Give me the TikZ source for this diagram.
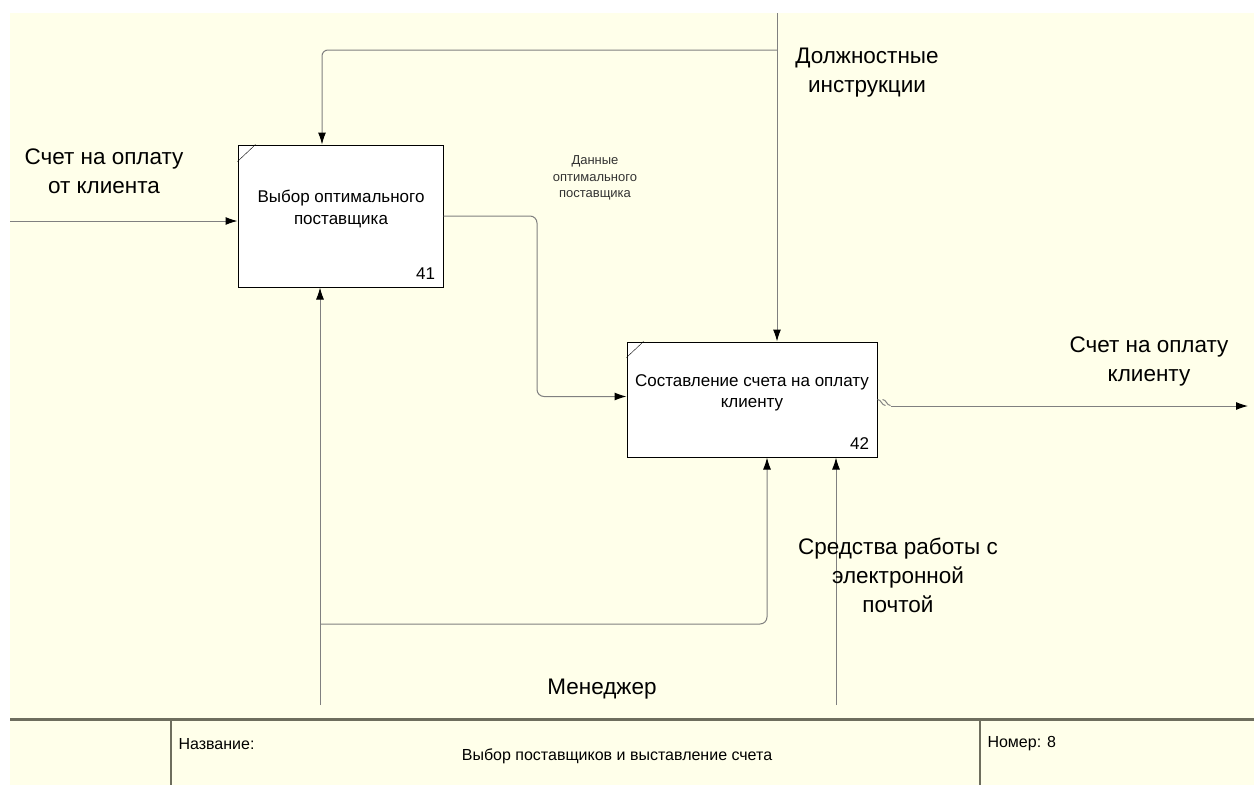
\documentclass[tikz,border=0pt]{standalone}
\usepackage{fontspec}
\setmainfont{Liberation Sans}
\usetikzlibrary{arrows.meta}

\definecolor{paper}{HTML}{FFFFEA}
\definecolor{wire}{HTML}{808080}
\definecolor{frame}{HTML}{6E6E5E}

\tikzset{
  func/.style={draw=black, line width=1pt, fill=white, inner sep=0pt},
  flow/.style={draw=wire, line width=1pt, -{Latex[length=12pt,width=8pt,color=black]}},
  wireline/.style={draw=wire, line width=1pt},
  biglbl/.style={align=center, font=\fontsize{22.5}{29}\selectfont},
  boxlbl/.style={align=center, font=\fontsize{17}{21.5}\selectfont},
  smalllbl/.style={align=center, font=\fontsize{13}{16.5}\selectfont, text=black!80},
  framelbl/.style={font=\fontsize{16}{18}\selectfont}
}

\begin{document}
\begin{tikzpicture}[x=1pt,y=-1pt]
\useasboundingbox (0,0) rectangle (1254,785);
\fill[white] (0,0) rectangle (1254,785);
\fill[paper] (10,13) rectangle (1254,785);

% functions
\node[func, minimum width=205pt, minimum height=142pt] (sel) at (340.5,216) {};
\draw ([yshift=-17pt]sel.north west) -- ([xshift=18pt]sel.north west);
\node[boxlbl] (selt) at (341,209) {Выбор оптимального\\поставщика};
\node[boxlbl, anchor=south east] (seln) at ([xshift=-5pt,yshift=4pt]sel.south east) {41};

\node[func, minimum width=250pt, minimum height=115pt] (inv) at (752,399.5) {};
\draw ([yshift=-16pt]inv.north west) -- ([xshift=17pt]inv.north west);
\node[boxlbl] (invt) at (752,393) {Составление счета на оплату\\клиенту};
\node[boxlbl, anchor=south east] (invn) at ([xshift=-5pt,yshift=4pt]inv.south east) {42};

% ends of the arrows
\coordinate (inL) at (10,221);
\coordinate (ctlT) at (777,13);
\coordinate (ctlJ) at (777,50);
\coordinate (outR) at (1248,406);
\coordinate (mgrB) at (320,705);
\coordinate (mgrJ) at (320,624);
\coordinate (toolB) at (836,705);

% input
\draw[flow] (inL) -- (inL -| sel.west);
\node[biglbl] (inlbl) at (104,171) {Счет на оплату\\от клиента};

% controls
\draw[flow] (ctlT) -- (ctlT |- inv.north);
\draw[flow, rounded corners=6pt] (ctlJ) -| ([xshift=-18.5pt]sel.north);
\node[biglbl] (ctllbl) at (867,73) {Должностные\\инструкции};

% data between the functions
\draw[flow, rounded corners=7pt] (sel.east) -| (537,300) |- ([yshift=3pt]inv.west);
\node[smalllbl] (datlbl) at (595,178) {Данные\\оптимального\\поставщика};

% output
\draw[wireline] (inv.east) to[out=0,in=180] ++(8,6);
\draw[wireline] ([xshift=5pt]inv.east) to[out=0,in=180] ++(8,6);
\draw[flow] ([xshift=13pt,yshift=-6.5pt]inv.east) -- (outR);
\node[biglbl] (outlbl) at (1149,361) {Счет на оплату\\клиенту};

% mechanisms
\draw[flow] (mgrB) -- (mgrB |- sel.south);
\draw[flow, rounded corners=7pt] (mgrJ) -| ([xshift=15pt]inv.south);
\node[biglbl] (mgrlbl) at (602,689) {Менеджер};
\draw[flow] (toolB) -- (toolB |- inv.south);
\node[biglbl] (toollbl) at (898,575) {Средства работы с\\электронной\\почтой};

% frame at the bottom
\draw[frame, line width=3pt] (10,719) -- (1254,719);
\draw[frame, line width=1.3pt] (171,719) -- (171,785);
\draw[frame, line width=1.3pt] (980,719) -- (980,785);
\node[framelbl, anchor=west] (namelbl) at (175,744) {Название:};
\node[framelbl] (titlelbl) at (617,756) {Выбор поставщиков и выставление счета};
\node[framelbl, anchor=west] (numlbl) at (984,744) {Номер: 8};
\end{tikzpicture}
\end{document}
